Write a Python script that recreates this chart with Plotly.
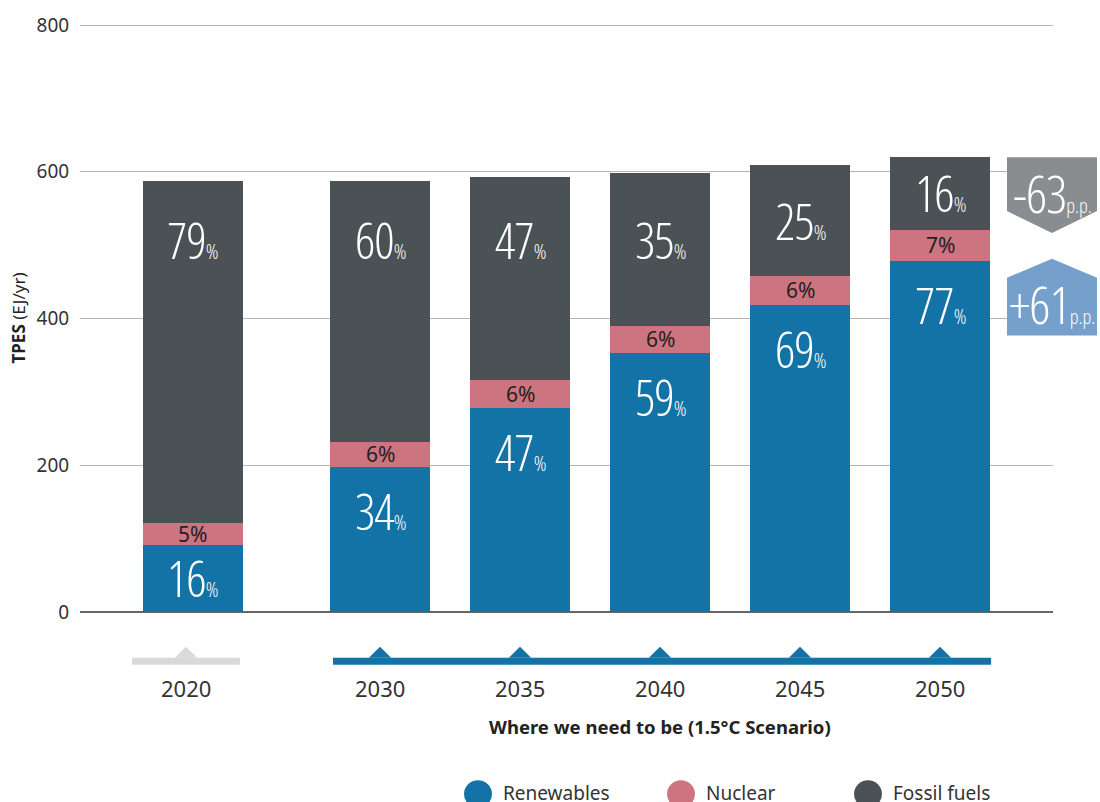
import plotly.graph_objects as go

# ---------------- data ----------------
years = ["2020", "2030", "2035", "2040", "2045", "2050"]
renewables = [92, 198, 278, 353, 419, 479]
nuclear = [29, 34, 38, 37, 39, 42]
fossil = [467, 356, 277, 209, 151, 99]
ren_pct = [16, 34, 47, 59, 69, 77]
nuc_pct = [5, 6, 6, 6, 6, 7]
fos_pct = [79, 60, 47, 35, 25, 16]
y_ticks = [0, 200, 400, 600, 800]
series_names = ["Renewables", "Nuclear", "Fossil fuels"]

# ---------------- style ----------------
C_REN = "#1473a6"
C_NUC = "#cc7480"
C_FOS = "#4b5255"
C_GRAY_TL = "#d9d9d9"
C_DOWN = "#8a8d8f"
C_UP = "#74a0cb"
COND = "Open Sans"
CSTY = "font-stretch:75%;font-weight:300"
BASEF = "Noto Sans, Open Sans, sans-serif"

W, H = 1100, 802
ML, MR, MT, MB = 80, 47, 21, 190
PW, PH = W - ML - MR, H - MT - MB

def px(xp):
    return (xp - ML) / PW

def py(yp):
    return (H - MB - yp) / PH

gap_first = 1.336
xpos = [-gap_first] + [float(i) for i in range(len(years) - 1)]
bar_w = 0.72
lab_shift = [-0.05] + [0.0] * (len(years) - 1)

fig = go.Figure()
for vals, name, col in [(renewables, series_names[0], C_REN),
                        (nuclear, series_names[1], C_NUC),
                        (fossil, series_names[2], C_FOS)]:
    fig.add_trace(go.Bar(x=xpos, y=vals, name=name, marker_color=col,
                         marker_line_width=0, width=bar_w, showlegend=False,
                         hoverinfo="y+name"))

ann = []
def big(v, small=21, tail="%"):
    return (f"<span style='{CSTY};letter-spacing:-1px'>{v}</span>"
            f"<span style='{CSTY};font-size:{small}px'>{tail}</span>")

BIG = dict(family=COND, size=50, color="white")

for i, x in enumerate(xpos):
    r, n, f = renewables[i], nuclear[i], fossil[i]
    yr = max(r - 60, r / 2)
    ann.append(dict(x=x, y=yr, xref="x", yref="y", text=big(ren_pct[i]),
                    showarrow=False, font=BIG, xanchor="center", yanchor="middle"))
    ann.append(dict(x=x, y=r + n / 2, xref="x", yref="y", text=f"{nuc_pct[i]}%",
                    showarrow=False, font=dict(family=BASEF, size=21, color="#222"),
                    xanchor="center", yanchor="middle"))
    yf = max(507, r + n + f / 2)
    ann.append(dict(x=x, y=yf, xref="x", yref="y", text=big(fos_pct[i]),
                    showarrow=False, font=BIG, xanchor="center", yanchor="middle"))
    ann.append(dict(x=x + lab_shift[i], y=py(688), xref="x", yref="paper", text=years[i],
                    showarrow=False, font=dict(family=BASEF, size=22, color="#333"),
                    xanchor="center", yanchor="middle"))

shapes = []
tl_y0, tl_y1, tri_top = py(665), py(658), py(647)
x20 = xpos[0] + lab_shift[0]
shapes.append(dict(type="rect", xref="x", yref="paper", x0=x20 - 0.385, x1=x20 + 0.385,
                   y0=tl_y0, y1=tl_y1, fillcolor=C_GRAY_TL, line_width=0))
shapes.append(dict(type="rect", xref="x", yref="paper", x0=xpos[1] - 0.336, x1=xpos[-1] + 0.365,
                   y0=tl_y0, y1=tl_y1, fillcolor=C_REN, line_width=0))
for i, x in enumerate(xpos):
    col = C_GRAY_TL if i == 0 else C_REN
    xc = x + lab_shift[i]
    shapes.append(dict(type="path", xref="x", yref="paper",
                       path=f"M{xc-0.08},{tl_y1} L{xc},{tri_top} L{xc+0.08},{tl_y1} Z",
                       fillcolor=col, line_width=0))

d_fos = fos_pct[-1] - fos_pct[0]
d_ren = ren_pct[-1] - ren_pct[0]
bx0, bx1, bxm = px(1007), px(1097), px(1052)
shapes.append(dict(type="path", xref="paper", yref="paper", fillcolor=C_DOWN, line_width=0,
                   path=f"M{bx0},{py(155)} L{bx1},{py(155)} L{bx1},{py(209)} L{bxm},{py(231)} L{bx0},{py(209)} Z"))
shapes.append(dict(type="path", xref="paper", yref="paper", fillcolor=C_UP, line_width=0,
                   path=f"M{bx0},{py(334)} L{bx1},{py(334)} L{bx1},{py(276)} L{bxm},{py(257)} L{bx0},{py(276)} Z"))
BOXF = dict(family=COND, size=52, color="white")
ann.append(dict(x=bxm, y=py(190), xref="paper", yref="paper", showarrow=False,
                text=big(f"{d_fos:+d}", small=20, tail="p.p."),
                font=BOXF, xanchor="center", yanchor="middle"))
ann.append(dict(x=bxm, y=py(302), xref="paper", yref="paper", showarrow=False,
                text=big(f"{d_ren:+d}", small=20, tail="p.p."),
                font=BOXF, xanchor="center", yanchor="middle"))

ann.append(dict(x=(xpos[1] + xpos[-1]) / 2, y=py(727), xref="x", yref="paper", showarrow=False,
                text="<b>Where we need to be (1.5°C Scenario)</b>",
                font=dict(family=BASEF, size=18.5, color="#222"),
                xanchor="center", yanchor="middle"))

leg_x = [478, 681, 868]
leg_cols = [C_REN, C_NUC, C_FOS]
for lx, name, col in zip(leg_x, series_names, leg_cols):
    shapes.append(dict(type="circle", xref="paper", yref="paper",
                       x0=px(lx - 14), x1=px(lx + 14), y0=py(809), y1=py(781),
                       fillcolor=col, line_width=0))
    ann.append(dict(x=px(lx + 23), y=py(794), xref="paper", yref="paper", showarrow=False,
                    text=name, xanchor="left", yanchor="middle",
                    font=dict(family=BASEF, size=19, color="#333")))

fig.update_layout(
    width=W, height=H, margin=dict(l=ML, r=MR, t=MT, b=MB),
    barmode="stack", bargap=0,
    plot_bgcolor="white", paper_bgcolor="white",
    annotations=ann, shapes=shapes,
    xaxis=dict(range=[(ML - 380) / 140, (W - MR - 380) / 140], showticklabels=False,
               showgrid=False, zeroline=False, showline=False, ticks="", fixedrange=True),
    yaxis=dict(range=[0, 801.5], tickvals=y_ticks, showgrid=True, gridcolor="#b3b3b3",
               gridwidth=1, zeroline=True, zerolinecolor="#666", zerolinewidth=2,
               tickfont=dict(family=BASEF, size=19, color="#333"),
               ticks="outside", ticklen=6, tickcolor="rgba(0,0,0,0)",
               title=dict(text="<b>TPES</b> (EJ/yr)", standoff=6,
                          font=dict(family=BASEF, size=17, color="#222"))),
)

fig.write_html("out.html")
